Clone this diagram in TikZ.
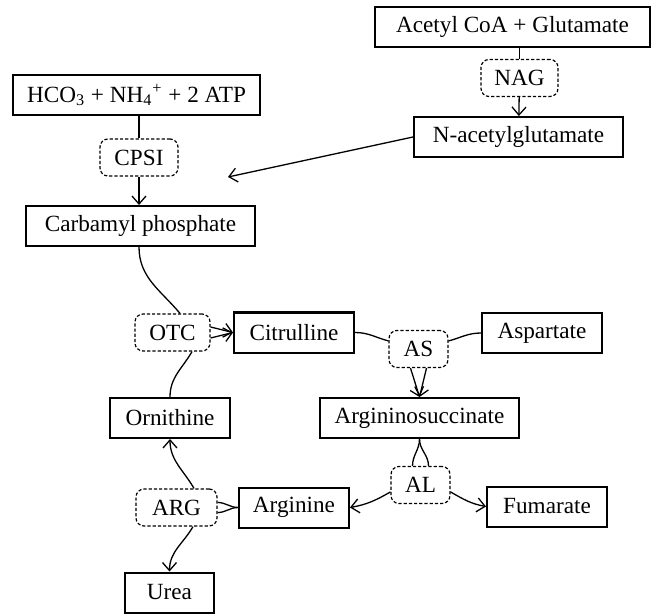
\documentclass[tikz,border=0pt]{standalone}
\usepackage{fontspec}
\setmainfont{Liberation Serif}
\usetikzlibrary{arrows.meta}

\begin{document}
\begin{tikzpicture}[x=0.5pt,y=-0.5pt,
	font=\fontsize{11.6}{13}\selectfont,
	>={Straight Barb[length=4pt,width=7pt]},
	compound/.style={draw,line width=1pt,inner sep=0pt,minimum height=20pt},
	enzyme/.style={draw,line width=0.6pt,dash pattern=on 1.6pt off 1pt,rounded corners=4pt,inner sep=0pt,minimum height=18.5pt},
	link/.style={line width=0.65pt}]
	\useasboundingbox (0,0) rectangle (652,614);
	\path (512.5,27) node[compound,minimum width=137.5pt] (acetyl) {Acetyl CoA + Glutamate}
	(519.5,78) node[enzyme,minimum width=38.5pt] (nag) {NAG}
	(518.5,137) node[compound,minimum width=104.5pt] (nacetyl) {N-acetylglutamate}
	(136.5,95) node[compound,minimum width=123.5pt] (hco) {HCO\textsubscript{3} + NH\textsubscript{4}\textsuperscript{+} + 2 ATP}
	(139,157.5) node[enzyme,minimum width=39pt] (cpsi) {CPSI}
	(140.5,226) node[compound,minimum width=114.5pt] (carb) {Carbamyl phosphate}
	(172.5,332.5) node[enzyme,minimum width=37.5pt] (otc) {OTC}
	(294,332.5) node[compound,minimum width=60pt] (citr) {Citrulline}
	(418.5,349) node[enzyme,minimum width=29.5pt] (as) {AS}
	(542,333) node[compound,minimum width=60pt] (asp) {Aspartate}
	(170,418) node[compound,minimum width=60pt] (orn) {Ornithine}
	(419.5,418) node[compound,minimum width=99.5pt] (argsucc) {Argininosuccinate}
	(420.5,485) node[enzyme,minimum width=29.5pt] (al) {AL}
	(176.5,507.5) node[enzyme,minimum width=40.5pt] (arg) {ARG}
	(294,507.5) node[compound,minimum width=55pt] (arginine) {Arginine}
	(547,506.5) node[compound,minimum width=60pt] (fum) {Fumarate}
	(169.5,592.5) node[compound,minimum width=44.5pt] (urea) {Urea};
	\coordinate (nagtip) at (228,177);
%	top part
	\draw[link] (acetyl.south -| nag.north) -- (nag);
	\draw[link,->] (nag) -- (nacetyl);
	\draw[link,->] (nacetyl.west) -- (nagtip);
	\draw[link] (hco.south -| cpsi.north) -- (cpsi);
	\draw[link,->] (cpsi) -- (carb.north -| cpsi.south);
%	cycle
	\draw[link] (carb.south -| cpsi.south) to[out=-90,in=130] ([xshift=3.75pt]otc.north);
	\draw[link] (orn.north) to[out=90,in=-120] ([xshift=9.75pt]otc.south);
	\draw[link,->] ([yshift=2.75pt]otc.east) -- (citr.west);
	\draw[link,->] ([yshift=-2.75pt]otc.east) -- (citr.west);
	\draw[link] (citr.east) to[out=0,in=165] (as.165);
	\draw[link] (asp.west) to[out=180,in=15] (as.15);
	\draw[link,->] ([xshift=-4pt]as.south) -- (argsucc.north);
	\draw[link,->] ([xshift=4pt]as.south) -- (argsucc.north);
	\draw[link] (argsucc.south) to[out=-90,in=90] ([xshift=-4pt]al.north);
	\draw[link] (argsucc.south) to[out=-90,in=90] ([xshift=4pt]al.north);
	\draw[link,->] (al.193) to[out=-150,in=10] (arginine.east);
	\draw[link,->] (al.-13) to[out=-30,in=170] (fum.west);
	\draw[link] (arginine.west) to[out=180,in=0] (arg.7);
	\draw[link] (arginine.west) to[out=180,in=0] (arg.-7);
	\draw[link,->] ([xshift=8.75pt]arg.north) to[out=120,in=-90] (orn.south);
	\draw[link,->] ([xshift=8.25pt]arg.south) to[out=-120,in=90] (urea.north);
\end{tikzpicture}
\end{document}
